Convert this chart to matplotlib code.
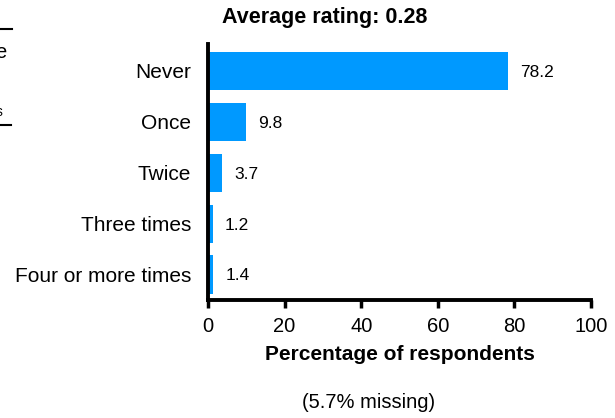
import matplotlib
matplotlib.use("Agg")
import matplotlib.pyplot as plt
from matplotlib.lines import Line2D

plt.rcParams["font.family"] = ["Liberation Sans", "DejaVu Sans"]

categories = ["Never", "Once", "Twice", "Three times", "Four or more times"]
values = [78.2, 9.8, 3.7, 1.2, 1.4]
xticks = [0, 20, 40, 60, 80, 100]
title = "Average rating: 0.28"
xlabel = "Percentage of respondents"
note = "(5.7% missing)"

W, H = 615, 418
fig = plt.figure(figsize=(W / 100, H / 100), dpi=100)
ax = fig.add_axes([208 / W, 1 - 300 / H, (591 - 208) / W, (300 - 44) / H])

pos = list(range(len(categories)))
ax.barh(pos, values, height=0.75, color="#0099FF", edgecolor="none")
for p, v in zip(pos, values):
    ax.annotate(f"{v:.1f}", (v, p), xytext=(9, -1), textcoords="offset points",
                ha="left", va="center", fontsize=12.5)

ax.set_xlim(0, 100)
ax.set_ylim(4.5, -0.53)
ax.set_xticks(xticks)
ax.set_xticklabels([str(t) for t in xticks], fontsize=14.5)
ax.set_yticks(pos)
ax.set_yticklabels(categories, fontsize=15)
ax.tick_params(axis="y", length=0, pad=12)
ax.tick_params(axis="x", length=6, width=2.5, direction="out", pad=6)
for s in ("top", "right"):
    ax.spines[s].set_visible(False)
for s in ("left", "bottom"):
    ax.spines[s].set_linewidth(2.8)
ax.set_xlabel(xlabel, fontsize=15, fontweight="bold", labelpad=7)

fig.text(325 / W, 1 - 18 / H, title, ha="center", va="center",
         fontsize=15.5, fontweight="bold")
fig.text(369 / W, 1 - 403 / H, note, ha="center", va="center", fontsize=14.5)

# clipped remnants on the left edge
fig.add_artist(Line2D([0, 12 / W], [1 - 29 / H] * 2, color="black", lw=1.5))
fig.add_artist(Line2D([0, 11 / W], [1 - 125 / H] * 2, color="black", lw=1.5))
fig.text(6 / W, 1 - 52 / H, "e", ha="right", va="center", fontsize=14.5)
fig.text(3 / W, 1 - 112 / H, "s", ha="right", va="center", fontsize=10)

fig.savefig("out.png", dpi=100)
